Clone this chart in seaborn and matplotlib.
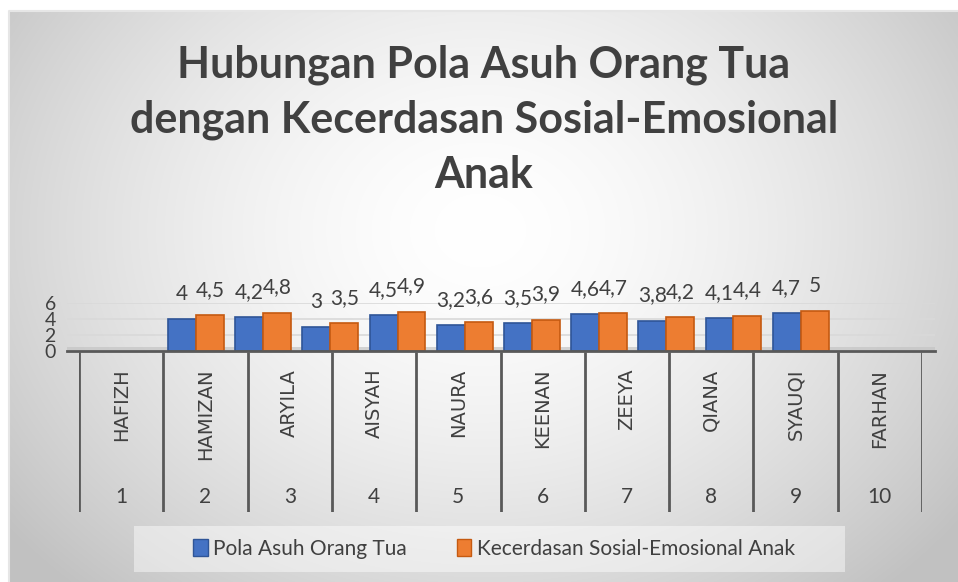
import numpy as np
import pandas as pd
import matplotlib
matplotlib.use('Agg')
import matplotlib.pyplot as plt
from matplotlib.patches import Rectangle
import seaborn as sns

nomor = ['1', '2', '3', '4', '5', '6', '7', '8', '9', '10']
nama = ['HAFIZH', 'HAMIZAN', 'ARYILA', 'AISYAH', 'NAURA', 'KEENAN', 'ZEEYA', 'QIANA', 'SYAUQI', 'FARHAN']
pola_asuh = [4, 4.2, 3, 4.5, 3.2, 3.5, 4.6, 3.8, 4.1, 4.7]
kecerdasan = [4.5, 4.8, 3.5, 4.9, 3.6, 3.9, 4.7, 4.2, 4.4, 5]
seri = ['Pola Asuh Orang Tua', 'Kecerdasan Sosial-Emosional Anak']
judul = 'Hubungan Pola Asuh Orang Tua\ndengan Kecerdasan Sosial-Emosional\nAnak'

df = pd.DataFrame({
    'kategori': nama * 2,
    'nilai': pola_asuh + kecerdasan,
    'seri': [seri[0]] * len(nama) + [seri[1]] * len(nama),
})

sns.set_style('white')
plt.rcParams['font.family'] = ['Lato', 'DejaVu Sans']
teks = '#404040'
W, H = 958, 582

fig = plt.figure(figsize=(W / 100, H / 100), dpi=100)

# background with radial gradient like the Excel chart area
ax_bg = fig.add_axes([0, 0, 1, 1], zorder=-10)
yy, xx = np.mgrid[0:H, 0:W]
r = np.sqrt(((xx - 480) / 520) ** 2 + ((yy - 230) / 420) ** 2)
abu = np.clip(1 - 0.24 * (r / 1.15) ** 1.6, 0.76, 1)
abu[:11, :] = 1
abu[:, :9] = 1
ax_bg.imshow(np.dstack([abu, abu, abu]), extent=(0, W, H, 0), aspect='auto')
ax_bg.plot([9, 9, W], [H, 11, 11], color='#e6e6e6', lw=1.5)
ax_bg.set_xlim(0, W)
ax_bg.set_ylim(H, 0)
ax_bg.axis('off')

fig.text(484 / W, 1 - 120 / H, judul, ha='center', va='center', fontsize=31,
         fontweight='bold', color=teks, linespacing=1.45)

# bars
ax = fig.add_axes([67 / W, (H - 351) / H, 868 / W, 48 / H])
ax.patch.set_alpha(0)
sns.barplot(data=df, x='kategori', y='nilai', hue='seri', ax=ax, width=0.83,
            palette=['#4472C4', '#ED7D31'], saturation=1)
warna_tepi = ['#2F5597', '#C55A11']
for cont, tepi in zip(ax.containers, warna_tepi):
    for b in cont:
        b.set_edgecolor(tepi)
        b.set_linewidth(1.2)
    label = [f'{v:g}'.replace('.', ',') for v in cont.datavalues]
    ax.bar_label(cont, labels=label, padding=11, fontsize=15, color=teks)
ax.axhspan(0, 0.45, color='#c4c4c4', alpha=0.7, lw=0, zorder=0.5)
ax.set_xlim(-1.92, 11.0)
ax.set_ylim(0, 6)
ax.set_yticks([0, 2, 4, 6])
ax.set_yticklabels(['0', '2', '4', '6'], fontsize=14, color=teks)
ax.tick_params(axis='y', length=0, pad=8)
ax.set_xticks([])
ax.set_xlabel('')
ax.set_ylabel('')
ax.yaxis.grid(True, color='#d9d9d9', lw=1.2)
ax.set_axisbelow(True)
sns.despine(ax=ax, left=True)
ax.spines['bottom'].set_color('#595959')
ax.spines['bottom'].set_linewidth(2)
handles, labels = ax.get_legend_handles_labels()
ax.get_legend().remove()

# multi level category axis
ax2 = fig.add_axes([79 / W, (H - 512) / H, 843 / W, 160 / H])
ax2.patch.set_alpha(0)
ax2.set_xlim(0, 10)
ax2.set_ylim(0, 1)
ax2.vlines(range(11), 0, 1, color='#595959', lw=2)
for i in range(10):
    ax2.text(i + 0.5, 0.895, nama[i], rotation=90, ha='center', va='top',
             fontsize=14, color=teks, family=['DejaVu Sans'])
    ax2.text(i + 0.5, 0.094, nomor[i], ha='center', va='center', fontsize=15, color=teks)
ax2.axis('off')

# legend
fig.patches.append(Rectangle((134 / W, 1 - 572 / H), 711 / W, 46 / H, transform=fig.transFigure,
                             facecolor='white', alpha=0.45, edgecolor='none', zorder=-5))
for h, tepi in zip(handles, warna_tepi):
    h.set_edgecolor(tepi)
fig.legend(handles, labels, loc='center', bbox_to_anchor=(494 / W, 1 - 549 / H), ncol=2,
           frameon=False, fontsize=15, labelcolor=teks, handlelength=0.7, handleheight=0.9,
           handletextpad=0.25, columnspacing=2.4)

fig.savefig('out.png', dpi=100)
